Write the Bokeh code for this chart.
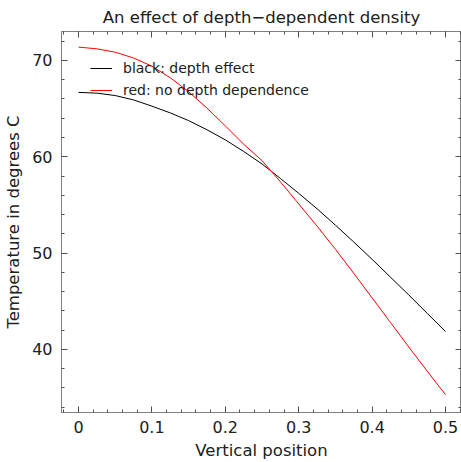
from bokeh.plotting import figure
from bokeh.models import (Range1d, LinearAxis, FixedTicker, CustomJSTickFormatter,
                          Legend, LegendItem)
from bokeh.embed import file_html
from bokeh.resources import INLINE

# ---- data ----
x_pos = [0.0, 0.025, 0.05, 0.075, 0.1, 0.125, 0.15, 0.175, 0.2, 0.225, 0.25,
         0.275, 0.3, 0.325, 0.35, 0.375, 0.4, 0.425, 0.45, 0.475, 0.5]
t_depth = [66.68, 66.6, 66.35, 65.9, 65.25, 64.55, 63.75, 62.8, 61.75, 60.55, 59.25,
           57.75, 56.2, 54.6, 52.9, 51.15, 49.35, 47.5, 45.65, 43.75, 41.86]
t_nodepth = [71.38, 71.2, 70.85, 70.25, 69.4, 68.2, 66.75, 65.05, 63.2, 61.3, 59.6,
             57.4, 55.1, 52.8, 50.4, 47.9, 45.35, 42.8, 40.25, 37.75, 35.3]
x_ticks = [0, 0.1, 0.2, 0.3, 0.4, 0.5]
x_minor = [round(i * 0.02, 2) for i in range(-1, 27)]
y_ticks = [40, 50, 60, 70]
y_minor = list(range(34, 74, 2))

title_text = "An effect of depth\u2212dependent density"
label_black = "black: depth effect"
label_red = "red: no depth dependence"

FONT = "DejaVu Sans"
AX = "#808080"
TK = "#505050"
TXT = "#202020"

p = figure(width=461, height=462, output_backend="svg", toolbar_location=None,
           x_range=Range1d(-0.0232, 0.5218), y_range=Range1d(33.45, 73.0),
           x_axis_location=None, y_axis_location=None,
           min_border_left=61, min_border_top=0, min_border_right=0, min_border_bottom=50)
p.grid.visible = False
p.outline_line_color = AX
p.background_fill_color = "white"
p.border_fill_color = "white"

p.title.text = title_text
p.title.align = "center"
p.title.text_font = FONT
p.title.text_font_size = "16.5px"
p.title.text_font_style = "normal"
p.title.text_color = TXT
p.title.standoff = 10

xfmt = CustomJSTickFormatter(code="return (Math.round(tick*10)/10).toString();")
blank = CustomJSTickFormatter(code="return '';")

def style(ax):
    ax.axis_line_color = AX
    ax.major_tick_line_color = TK
    ax.minor_tick_line_color = TK
    ax.major_tick_out = 0
    ax.minor_tick_out = 0
    ax.major_tick_in = 6
    ax.minor_tick_in = 3
    ax.major_label_text_font = FONT
    ax.axis_label_text_font = FONT
    ax.axis_label_text_font_style = "normal"
    ax.axis_label_text_color = TXT
    ax.major_label_text_color = TXT
    ax.major_label_text_font_size = "16px"
    ax.axis_label_text_font_size = "16.5px"

bx = LinearAxis(ticker=FixedTicker(ticks=x_ticks, minor_ticks=x_minor), formatter=xfmt,
                axis_label="Vertical position")
style(bx)
bx.major_label_standoff = 8
bx.axis_label_standoff = 5
tx = LinearAxis(ticker=FixedTicker(ticks=x_ticks, minor_ticks=x_minor), formatter=blank)
style(tx)
tx.major_label_standoff = 0
ly = LinearAxis(ticker=FixedTicker(ticks=y_ticks, minor_ticks=y_minor),
                axis_label="Temperature in degrees C")
style(ly)
ly.major_label_standoff = 9
ly.axis_label_standoff = 6
ry = LinearAxis(ticker=FixedTicker(ticks=y_ticks, minor_ticks=y_minor), formatter=blank)
style(ry)
ry.major_label_standoff = 0

p.add_layout(bx, "below")
p.add_layout(tx, "above")
p.add_layout(ly, "left")
p.add_layout(ry, "right")

r_black = p.line(x_pos, t_depth, line_color="black", line_width=1)
r_red = p.line(x_pos, t_nodepth, line_color="red", line_width=1)

legend = Legend(items=[LegendItem(label=label_black, renderers=[r_black]),
                       LegendItem(label=label_red, renderers=[r_red])],
                location=(29, 312))
legend.border_line_color = None
legend.background_fill_alpha = 0
legend.padding = 0
legend.margin = 0
legend.spacing = 2
legend.glyph_width = 22
legend.glyph_height = 20
legend.label_height = 20
legend.label_standoff = 11
legend.label_text_font = FONT
legend.label_text_font_size = "14px"
legend.label_text_color = TXT
p.add_layout(legend, "center")

open("out.html", "w").write(file_html(p, INLINE))
